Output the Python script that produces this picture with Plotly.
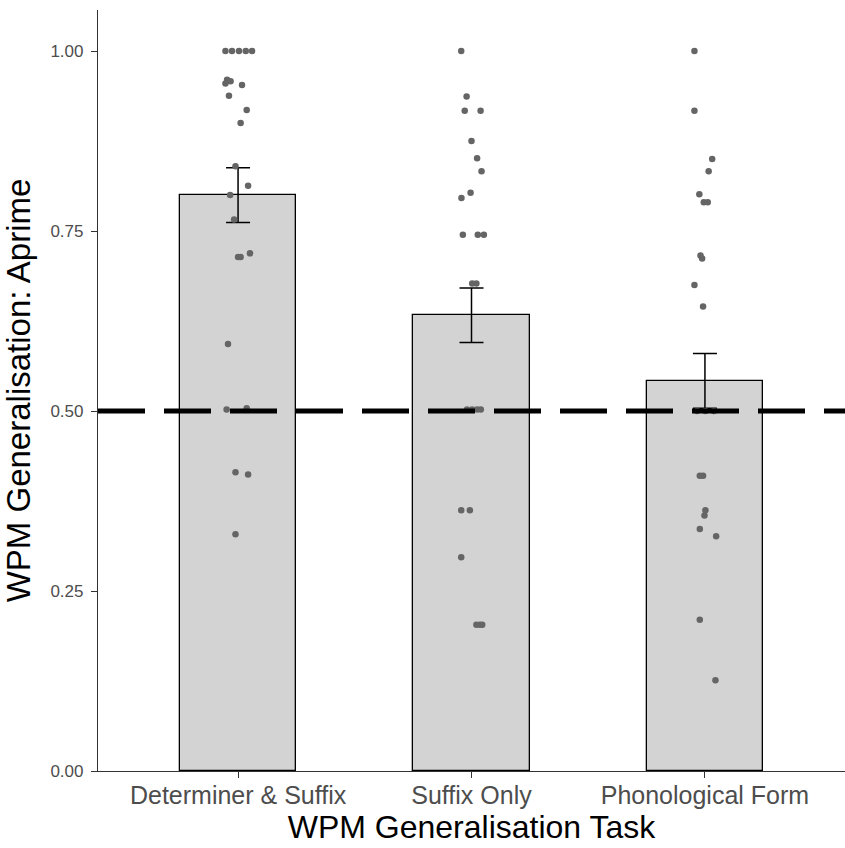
import plotly.graph_objects as go

categories = ["Determiner & Suffix", "Suffix Only", "Phonological Form"]
bar_means = [0.800, 0.633, 0.542]
bar_se = [0.038, 0.038, 0.038]
chance_level = 0.5

# individual participant scores and their horizontal jitter
g1_vals = [1.0, 1.0, 1.0, 1.0, 1.0, 0.960, 0.958, 0.955, 0.953, 0.938, 0.918, 0.900,
           0.840, 0.813, 0.800, 0.766, 0.714, 0.719, 0.714, 0.593, 0.502, 0.504,
           0.415, 0.412, 0.329]
g1_jit = [-0.054, -0.026, 0.004, 0.033, 0.060, -0.047, -0.032, -0.054, 0.017, -0.039,
          0.037, 0.011, -0.011, 0.043, -0.034, -0.017, 0.011, 0.051, 0.000, -0.043,
          -0.049, 0.037, -0.011, 0.043, -0.011]
g2_vals = [1.0, 0.937, 0.917, 0.917, 0.875, 0.851, 0.833, 0.796, 0.803, 0.745, 0.745,
           0.745, 0.677, 0.677, 0.502, 0.502, 0.502, 0.502, 0.362, 0.362, 0.297,
           0.203, 0.203, 0.203]
g2_jit = [-0.044, -0.021, -0.029, 0.039, 0.000, 0.024, 0.043, -0.043, -0.004, -0.037,
          0.027, 0.053, 0.003, 0.021, -0.019, 0.003, 0.024, 0.040, -0.044, -0.007,
          -0.044, 0.021, 0.036, 0.046]
g3_vals = [1.0, 0.917, 0.850, 0.833, 0.801, 0.790, 0.790, 0.716, 0.712, 0.675, 0.645,
           0.500, 0.500, 0.500, 0.410, 0.410, 0.362, 0.355, 0.336, 0.326, 0.210, 0.126]
g3_jit = [-0.045, -0.045, 0.031, 0.016, -0.024, -0.005, 0.012, -0.019, -0.012, -0.045,
          -0.008, -0.034, 0.002, 0.038, -0.022, -0.008, 0.002, -0.002, -0.022, 0.048,
          -0.022, 0.045]

y_ticks = [0.0, 0.25, 0.5, 0.75, 1.0]
y_ticklabels = ["0.00", "0.25", "0.50", "0.75", "1.00"]

cat_pos = [1, 2, 3]
font_fam = "Liberation Sans, Arial, sans-serif"

fig = go.Figure()
fig.add_trace(go.Bar(
    x=cat_pos, y=bar_means, width=0.5,
    marker=dict(color="#d3d3d3", line=dict(color="black", width=1.3)),
    error_y=dict(type="data", array=bar_se, color="black", thickness=1.5, width=12),
    showlegend=False,
))

for pos, vals, jit in zip(cat_pos, [g1_vals, g2_vals, g3_vals], [g1_jit, g2_jit, g3_jit]):
    fig.add_trace(go.Scatter(
        x=[pos + j for j in jit], y=vals, mode="markers",
        marker=dict(color="#656565", size=6.5, line=dict(width=0)),
        showlegend=False,
    ))

fig.add_hline(y=chance_level, line=dict(color="black", width=5, dash="47px,19px"))

fig.update_layout(
    width=845, height=848,
    margin=dict(l=98, r=0, t=10, b=77),
    paper_bgcolor="white", plot_bgcolor="white",
    font=dict(family=font_fam),
    bargap=0,
)
fig.update_xaxes(
    range=[0.4, 3.6], tickvals=cat_pos, ticktext=categories,
    showline=True, linecolor="#333333", linewidth=1.2,
    ticks="outside", ticklen=6, tickcolor="#333333", ticklabelstandoff=-4,
    tickfont=dict(size=25, color="#4d4d4d", family=font_fam),
    showgrid=False, zeroline=False,
    title=dict(text="WPM Generalisation Task", font=dict(size=32, color="black", family=font_fam), standoff=0),
)
fig.update_yaxes(
    range=[0, 1.057], tickvals=y_ticks, ticktext=y_ticklabels,
    showline=True, linecolor="#333333", linewidth=1.2,
    ticks="outside", ticklen=6, tickcolor="#333333", ticklabelstandoff=4,
    tickfont=dict(size=17, color="#4d4d4d", family=font_fam),
    showgrid=False, zeroline=False,
    title=dict(text="WPM Generalisation: Aprime", font=dict(size=33, color="black", family=font_fam), standoff=10),
)

fig.write_html("out.html")
